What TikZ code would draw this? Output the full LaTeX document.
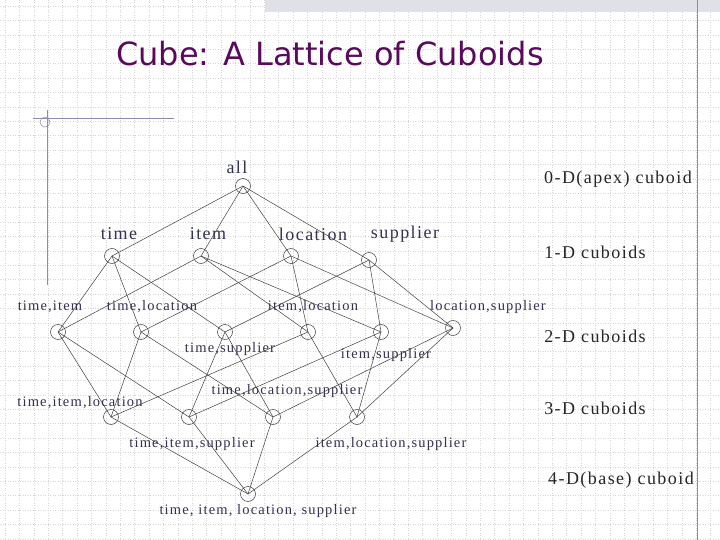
\documentclass[tikz,border=0pt]{standalone}
\usepackage{fontspec}
\setmainfont{Liberation Serif}
\newfontfamily\titlefont{DejaVu Sans}
\newfontfamily\spaced{Liberation Serif}[LetterSpace=8]
\begin{document}
\begin{tikzpicture}[x=1pt,y=-1pt,
  v/.style={circle,draw=black!75,line width=0.5pt,minimum size=15pt,inner sep=0pt},
  e/.style={draw=black!75,line width=0.5pt},
  lab/.style={text={rgb,255:red,50;green,50;blue,80},font=\spaced\fontsize{18}{18}\selectfont,inner sep=0pt},
  slab/.style={text={rgb,255:red,50;green,50;blue,80},font=\spaced\fontsize{14.5}{14.5}\selectfont,inner sep=0pt},
  rlab/.style={text=black!85,font=\spaced\fontsize{18}{18}\selectfont,inner sep=0pt}]
\useasboundingbox (0,0) rectangle (720,540);
\fill[white] (0,0) rectangle (720,540);
\foreach \i in {0,...,50} \draw[black!16,dotted,line width=0.5pt] (\i*14.4+5,0) -- (\i*14.4+5,540);
\foreach \i in {0,...,37} \draw[black!16,dotted,line width=0.5pt] (0,\i*14.4+6) -- (720,\i*14.4+6);
\fill[blue!25!black!12] (265,0) rectangle (720,12);
\draw[blue!30!black!45,line width=0.8pt] (697,0) -- (697,540);
\draw[blue!30!black!45,line width=0.8pt] (33,118) -- (174,118);
\draw[blue!30!black!45,line width=0.8pt] (47,110) -- (47,285);
\draw[blue!30!black!45,line width=0.5pt] (45,122) circle (5);
\node[text={rgb,255:red,90;green,10;blue,90},font=\titlefont\fontsize{32}{32}\selectfont] (title) at (330,54) {Cube: A Lattice of Cuboids};
% vertices
\node[v] (a) at (243,186) {};
\node[v] (t) at (112,256) {};
\node[v] (i) at (201,256) {};
\node[v] (l) at (291,256) {};
\node[v] (s) at (369,260) {};
\node[v] (ti) at (58,332) {};
\node[v] (tl) at (141,332) {};
\node[v] (ts) at (225,332) {};
\node[v] (il) at (308,332) {};
\node[v] (is) at (381,332) {};
\node[v] (ls) at (453,328) {};
\node[v] (til) at (111,417) {};
\node[v] (tis) at (189,417) {};
\node[v] (tls) at (273,417) {};
\node[v] (ils) at (357,417) {};
\node[v] (b) at (248,494) {};
\foreach \u/\w in {a/t,a/i,a/l,a/s,
  t/ti,t/tl,t/ts,i/ti,i/il,i/is,l/tl,l/il,l/ls,s/ts,s/is,s/ls,
  ti/til,ti/tis,tl/til,tl/tls,ts/tis,ts/tls,il/til,il/ils,is/tis,is/ils,ls/tls,ls/ils,
  til/b,tis/b,tls/b,ils/b}
  \draw[e] (\u.center) -- (\w.center);
% labels
\node[lab] (la) at (237,167) {all};
\node[lab] (lt) at (119,234) {time};
\node[lab] (li) at (208,234) {item};
\node[lab] (ll) at (313,234) {location};
\node[lab] (lsup) at (405,234) {supplier};
\node[slab] (lti) at (50,307) {time,item};
\node[slab] (ltl) at (152,307) {time,location};
\node[slab] (lil) at (313,307) {item,location};
\node[slab] (lls) at (488,307) {location,supplier};
\node[slab] (lts) at (230,349) {time,supplier};
\node[slab] (lis) at (386,355) {item,supplier};
\node[slab] (ltil) at (80,403) {time,item,location};
\node[slab] (ltls) at (287,391) {time,location,supplier};
\node[slab] (ltis) at (192,444) {time,item,supplier};
\node[slab] (lils) at (391,444) {item,location,supplier};
\node[slab] (lb) at (258,511) {time, item, location, supplier};
\node[rlab] (r0) at (618,179) {0-D(apex) cuboid};
\node[rlab] (r1) at (595,252) {1-D cuboids};
\node[rlab] (r2) at (595,336) {2-D cuboids};
\node[rlab] (r3) at (595,408) {3-D cuboids};
\node[rlab] (r4) at (621,480) {4-D(base) cuboid};
\end{tikzpicture}
\end{document}
